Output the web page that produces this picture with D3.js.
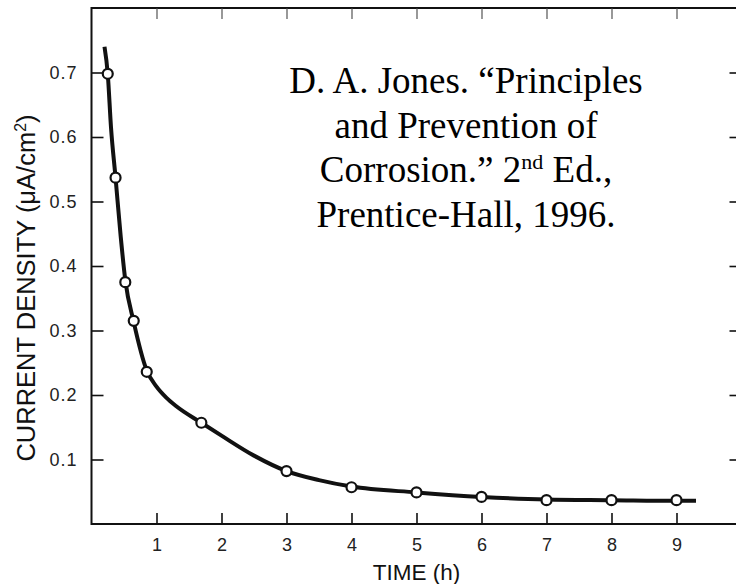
<!DOCTYPE html>
<html>
<head>
<meta charset="utf-8">
<script src="https://cdn.jsdelivr.net/npm/d3@7/dist/d3.min.js"></script>
<style>
  html, body { margin: 0; padding: 0; background: #fff; }
  svg { display: block; }
</style>
</head>
<body>
<svg id="chart" width="736" height="584"></svg>
<script>
// ---- data ----
const pointTime    = [0.25, 0.37, 0.52, 0.65, 0.85, 1.69, 3, 4, 5, 6, 7, 8, 9];
const pointDensity = [0.698, 0.537, 0.375, 0.315, 0.236, 0.157, 0.082, 0.057, 0.049, 0.042, 0.037, 0.037, 0.037];

const curveTime    = [0.20, 0.25, 0.30, 0.37, 0.45, 0.52, 0.65, 0.85, 1.0, 1.15, 1.3, 1.69, 2.0, 2.5, 3.0, 3.5, 4.0, 5.0, 6.0, 7.0, 8.0, 9.0, 9.3];
const curveDensity = [0.740, 0.698, 0.615, 0.537, 0.445, 0.378, 0.313, 0.238, 0.213, 0.196, 0.183, 0.157, 0.137, 0.106, 0.082, 0.068, 0.058, 0.049, 0.042, 0.038, 0.037, 0.036, 0.036];

const xTicks = [1, 2, 3, 4, 5, 6, 7, 8, 9];
const yTicks = [0.1, 0.2, 0.3, 0.4, 0.5, 0.6, 0.7];
const yTickLabels = ["0.1", "0.2", "0.3", "0.4", "0.5", "0.6", "0.7"];

const xTitle = "TIME (h)";
const citation = [
  [{t: "D. A. Jones. \u201CPrinciples"}],
  [{t: "and Prevention of"}],
  [{t: "Corrosion.\u201D 2"}, {t: "nd", sup: true}, {t: " Ed.,", after: true}],
  [{t: "Prentice-Hall, 1996."}]
];

// ---- layout ----
const svg = d3.select("#chart");
const L = 91.5, R = 741.5, T = 8, B = 524;
const x = d3.scaleLinear().domain([0, 10]).range([L, R]);
const y = d3.scaleLinear().domain([0, 0.8]).range([B, T]);

const sans = "'Liberation Sans', Arial, Helvetica, sans-serif";
const ink = "#111";

// frame
svg.append("rect")
  .attr("x", L).attr("y", T).attr("width", R - L).attr("height", B - T)
  .attr("fill", "none").attr("stroke", ink).attr("stroke-width", 2);

// bottom axis (ticks inward)
const gx = svg.append("g").attr("transform", `translate(0,${B})`)
  .call(d3.axisBottom(x).tickValues(xTicks).tickFormat(d3.format("d"))
        .tickSizeInner(-11).tickSizeOuter(0).tickPadding(14));
// top axis ticks
const gt = svg.append("g").attr("transform", `translate(0,${T})`)
  .call(d3.axisTop(x).tickValues(xTicks).tickFormat("")
        .tickSizeInner(-11).tickSizeOuter(0));
// left axis
const gy = svg.append("g").attr("transform", `translate(${L},0)`)
  .call(d3.axisLeft(y).tickValues(yTicks).tickFormat((d, i) => yTickLabels[i])
        .tickSizeInner(-12).tickSizeOuter(0).tickPadding(14));
// right axis ticks
const gr = svg.append("g").attr("transform", `translate(${R},0)`)
  .call(d3.axisRight(y).tickValues(yTicks).tickFormat("")
        .tickSizeInner(-12).tickSizeOuter(0));

[gx, gt, gy, gr].forEach(g => {
  g.select(".domain").remove();
  g.selectAll(".tick line").attr("stroke", ink).attr("stroke-width", 1.6);
  g.selectAll("text").attr("font-family", sans).attr("font-size", 18).attr("fill", "#222");
});
gt.selectAll(".tick line").attr("stroke-width", 1.1).attr("stroke", "#444");
gy.selectAll("text").attr("letter-spacing", "1px");

// axis titles
svg.append("text")
  .attr("x", x(5)).attr("y", 580)
  .attr("text-anchor", "middle")
  .attr("font-family", sans).attr("font-size", 22.5).attr("fill", ink)
  .text(xTitle);

const yt = svg.append("text")
  .attr("transform", `translate(35,288) rotate(-90)`)
  .attr("text-anchor", "middle")
  .attr("font-family", sans).attr("font-size", 25.5).attr("fill", ink);
yt.append("tspan").text("CURRENT DENSITY (\u03BCA/cm");
yt.append("tspan").attr("font-size", 16).attr("dy", -9).text("2");
yt.append("tspan").attr("dy", 9).text(")");

// fitted curve
const curveData = curveTime.map((t, i) => [t, curveDensity[i]]);
svg.append("path")
  .datum(curveData)
  .attr("fill", "none").attr("stroke", ink).attr("stroke-width", 4)
  .attr("stroke-linejoin", "round").attr("stroke-linecap", "butt")
  .attr("d", d3.line().x(d => x(d[0])).y(d => y(d[1])).curve(d3.curveMonotoneX));

// data points
svg.append("g").selectAll("circle")
  .data(pointTime.map((t, i) => [t, pointDensity[i]]))
  .join("circle")
  .attr("cx", d => x(d[0])).attr("cy", d => y(d[1])).attr("r", 5)
  .attr("fill", "#fff").attr("stroke", ink).attr("stroke-width", 2.2);

// citation text
const cite = svg.append("text")
  .attr("font-family", "'Liberation Serif', 'Times New Roman', serif")
  .attr("font-size", 37).attr("fill", "#000").attr("text-anchor", "middle");
citation.forEach((line, li) => {
  const tl = cite.append("tspan").attr("x", 466).attr("y", 93 + li * 44.5);
  line.forEach(seg => {
    const s = tl.append("tspan").text(seg.t);
    if (seg.sup) s.attr("font-size", 22).attr("dy", -13);
    if (seg.after) s.attr("dy", 13);
  });
});
</script>
</body>
</html>
